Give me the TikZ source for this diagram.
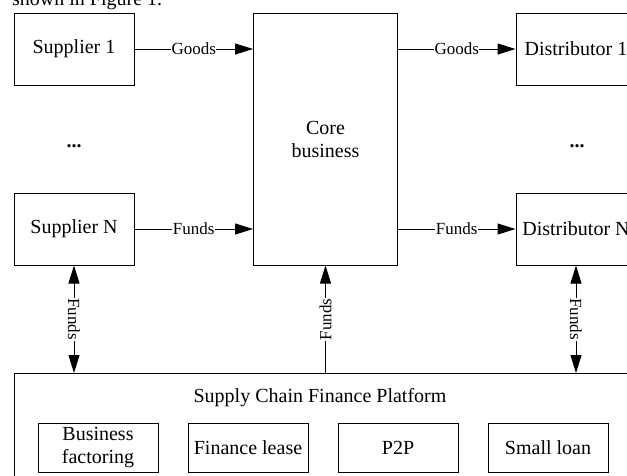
\documentclass[tikz,border=0pt]{standalone}
\usepackage{fontspec}
\setmainfont{Liberation Serif}
\usetikzlibrary{arrows.meta,positioning}
\tikzset{
  box/.style={draw,line width=1pt,minimum width=120pt,minimum height=72pt,align=center,inner sep=2pt,font=\fontsize{20}{23}\selectfont},
  subbox/.style={box,minimum height=49pt},
  lab/.style={fill=white,inner sep=0.5pt,font=\fontsize{17}{18}\selectfont},
  flow/.style={line width=1pt,-{Triangle[length=18pt,width=11pt]}},
  bflow/.style={line width=1pt,{Triangle[length=18pt,width=11pt]}-{Triangle[length=18pt,width=11pt]}}
}
\begin{document}
\begin{tikzpicture}[x=1pt,y=-1pt,font=\fontsize{20}{23}\selectfont]
\useasboundingbox (0,0) rectangle (627,475);
\clip (0,0) rectangle (627,475);
%			\draw[dashed,thin,gray] (0,0) grid[step=50] (627,475);
			\node[anchor=base west,inner sep=0pt] (intro) at (12,5) {shown in Figure 1.};
			% suppliers, core, distributors
			\node[box] (sup1) at (74,49) {Supplier 1};
			\node[box] (supN) at (74,229) {Supplier N};
			\node[box,minimum width=144pt,minimum height=252pt] (core) at (325.5,139) {Core\\business};
			\node[box] (dis1) at (576,49) {Distributor 1};
			\node[box] (disN) at (576,229) {Distributor N};
			\node[anchor=base,inner sep=0pt] (dotsL) at (74,147) {\textbf{...}};
			\node[anchor=base,inner sep=0pt] (dotsR) at (577,147) {\textbf{...}};
			% platform
			\node[draw,line width=1pt,anchor=north west,minimum width=640pt,minimum height=130pt] (scf) at (14,373) {};
			\node (title) at (320,398) {Supply Chain Finance Platform};
			\node[subbox] (fac) at (98,447.5) {Business\\factoring};
			\node[subbox] (lease) at (248,448) {Finance lease};
			\node[subbox] (ptp) at (398,448) {P2P};
			\node[subbox] (loan) at (548,448) {Small loan};
			% flows
			\draw[flow] (sup1.east) -- node[lab]{Goods} (sup1.east -| core.west);
			\draw[flow] (supN.east) -- node[lab]{Funds} (supN.east -| core.west);
			\draw[flow] (dis1.west -| core.east) -- node[lab]{Goods} (dis1.west);
			\draw[flow] (disN.west -| core.east) -- node[lab]{Funds} (disN.west);
			\draw[bflow] (supN.south) -- node[lab,rotate=-90]{Funds} (supN.south |- scf.north);
			\draw[flow] (core.south |- scf.north) -- node[lab,rotate=90]{Funds} (core.south);
			\draw[bflow] (disN.south) -- node[lab,rotate=-90]{Funds} (disN.south |- scf.north);
\end{tikzpicture}
\end{document}
